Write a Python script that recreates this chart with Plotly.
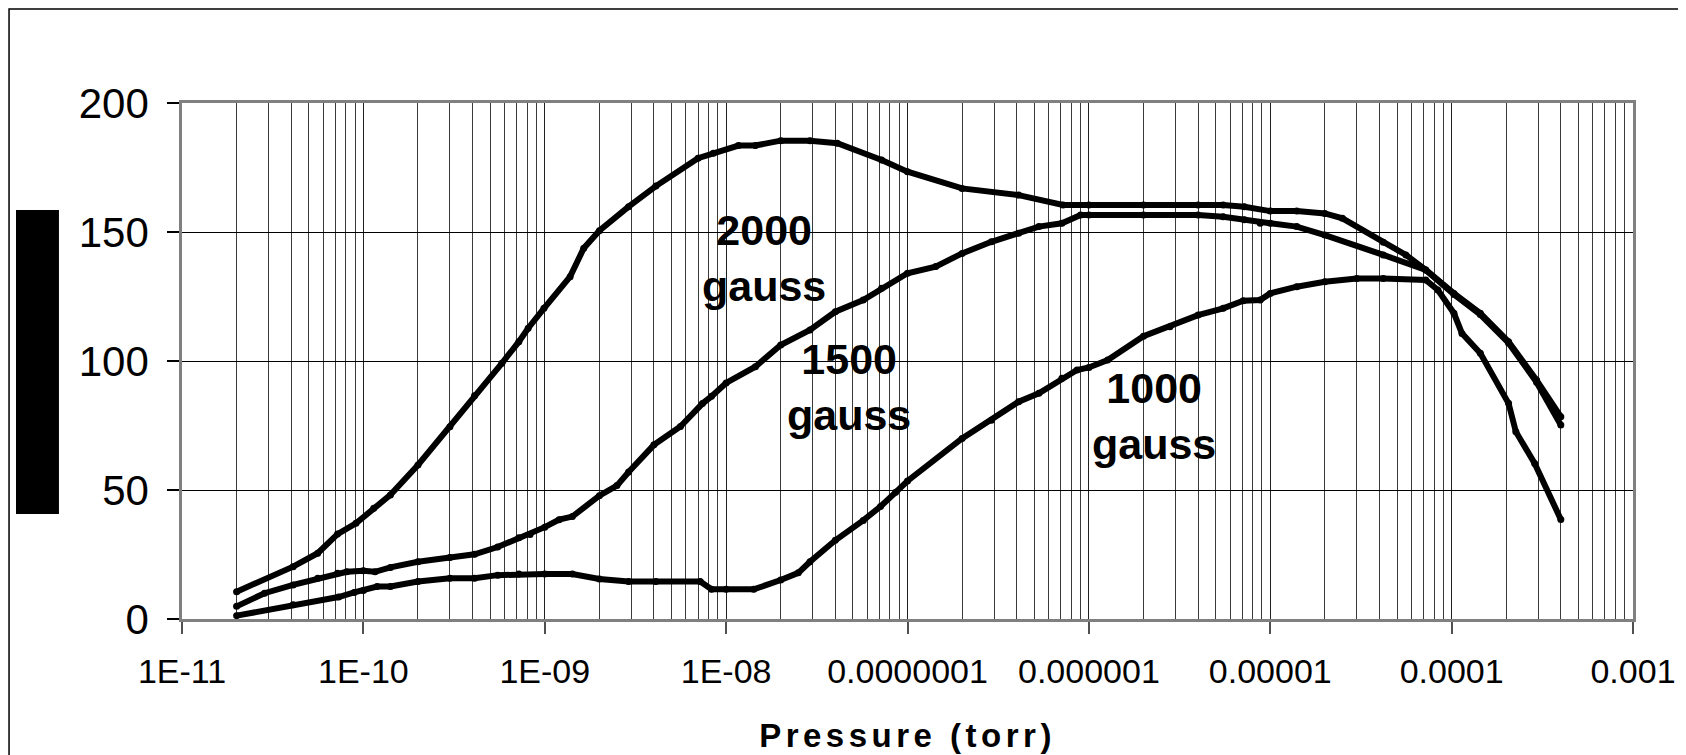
import plotly.graph_objects as go

# ---- data (pressure in torr) ----
p2000 = [2.0e-11, 4.1e-11, 5.6e-11, 7.2e-11, 9.1e-11, 1.14e-10, 1.41e-10, 2.0e-10, 3.0e-10, 4.1e-10,
         5.8e-10, 7.2e-10, 8.1e-10, 9.9e-10, 1.38e-9, 1.64e-9, 2.0e-9, 2.9e-9, 4.1e-9, 7.0e-9,
         8.5e-9, 1.17e-8, 1.45e-8, 2.0e-8, 2.9e-8, 4.1e-8, 7.2e-8, 1.0e-7, 2.0e-7, 4.1e-7,
         7.2e-7, 1.0e-6, 2.0e-6, 4.0e-6, 5.5e-6, 7.2e-6, 1.0e-5, 1.4e-5, 2.0e-5, 2.5e-5,
         4.2e-5, 5.6e-5, 7.2e-5, 1.03e-4, 1.44e-4, 2.06e-4, 2.94e-4, 4.0e-4]
y2000 = [10.6, 20.3, 25.5, 32.9, 37.1, 42.9, 48.1, 59.7, 74.5, 86.5,
         99.1, 107.5, 112.7, 120.4, 132.7, 143.7, 150.5, 159.8, 167.8, 178.6,
         180.5, 183.5, 183.5, 185.4, 185.4, 184.4, 177.9, 173.4, 166.9, 164.3,
         160.5, 160.5, 160.5, 160.5, 160.5, 159.8, 158.1, 158.1, 157.2, 155.3,
         146.0, 141.1, 135.3, 126.2, 118.5, 107.5, 92.6, 78.4]

p1500 = [2.0e-11, 2.85e-11, 4.1e-11, 5.6e-11, 7.2e-11, 8.1e-11, 1.0e-10, 1.16e-10, 1.41e-10, 2.0e-10,
         3.0e-10, 4.1e-10, 5.5e-10, 7.2e-10, 8.3e-10, 1.0e-9, 1.2e-9, 1.42e-9, 2.0e-9, 2.5e-9,
         2.9e-9, 4.0e-9, 5.6e-9, 7.4e-9, 8.3e-9, 1.0e-8, 1.45e-8, 2.0e-8, 2.9e-8, 4.0e-8,
         5.7e-8, 7.2e-8, 1.0e-7, 1.43e-7, 2.0e-7, 2.9e-7, 4.1e-7, 5.3e-7, 7.1e-7, 9.0e-7,
         1.0e-6, 2.0e-6, 4.0e-6, 5.5e-6, 7.2e-6, 8.8e-6, 1.0e-5, 1.4e-5, 2.0e-5, 4.2e-5,
         7.2e-5, 1.03e-4, 1.44e-4, 2.06e-4, 2.94e-4, 4.0e-4]
y1500 = [4.9, 10.0, 13.2, 15.8, 17.7, 18.3, 18.7, 18.3, 20.0, 22.2,
         23.8, 25.1, 27.9, 31.5, 32.8, 35.6, 38.5, 39.7, 47.8, 51.7,
         57.0, 67.5, 74.6, 83.5, 86.3, 91.5, 97.8, 106.2, 112.0, 119.1,
         123.6, 128.2, 134.0, 136.6, 141.7, 146.2, 149.5, 152.1, 153.4, 156.6,
         156.6, 156.6, 156.6, 155.9, 154.7, 153.4, 153.4, 152.1, 148.8, 141.1,
         135.3, 125.8, 118.0, 107.0, 91.8, 75.2]

p1000 = [2.0e-11, 4.1e-11, 7.3e-11, 8.9e-11, 1.0e-10, 1.19e-10, 1.41e-10, 2.0e-10, 3.0e-10, 4.1e-10,
         5.5e-10, 7.2e-10, 1.0e-9, 1.42e-9, 2.0e-9, 2.9e-9, 4.1e-9, 7.2e-9, 8.3e-9, 1.0e-8,
         1.42e-8, 2.0e-8, 2.5e-8, 2.9e-8, 4.0e-8, 5.7e-8, 7.1e-8, 8.6e-8, 1.0e-7, 2.0e-7,
         2.9e-7, 4.1e-7, 5.3e-7, 7.1e-7, 8.6e-7, 1.0e-6, 1.27e-6, 2.0e-6, 2.8e-6, 4.0e-6,
         5.5e-6, 7.1e-6, 8.8e-6, 1.0e-5, 1.4e-5, 2.0e-5, 3.0e-5, 4.2e-5, 7.2e-5, 8.4e-5,
         1.03e-4, 1.14e-4, 1.44e-4, 2.06e-4, 2.26e-4, 2.87e-4, 4.0e-4]
y1000 = [1.3, 5.5, 8.5, 10.3, 11.0, 12.6, 12.6, 14.5, 15.8, 15.8,
         17.0, 17.4, 17.4, 17.4, 15.5, 14.5, 14.5, 14.5, 11.5, 11.5,
         11.5, 15.1, 17.9, 22.2, 30.5, 38.2, 43.6, 49.1, 53.5, 70.0,
         77.0, 84.2, 87.5, 93.3, 96.5, 97.5, 100.4, 109.6, 113.3, 117.8,
         120.4, 123.4, 123.6, 126.2, 128.8, 130.7, 132.0, 132.0, 131.4, 127.5,
         118.5, 110.7, 103.0, 83.6, 72.6, 60.3, 38.6]

x_tickvals = [1e-11, 1e-10, 1e-9, 1e-8, 1e-7, 1e-6, 1e-5, 1e-4, 1e-3]
x_ticktext = ["1E-11", "1E-10", "1E-09", "1E-08", "0.0000001", "0.000001", "0.00001", "0.0001", "0.001"]
y_tickvals = [0, 50, 100, 150, 200]

labels = ["2000<br>gauss", "1500<br>gauss", "1000<br>gauss"]
label_x = [-7.79, -7.32, -5.64]   # log10 positions
label_y = [140.0, 90.0, 78.5]

minor_vals = [m * 10.0 ** e for e in range(-11, -3) for m in range(2, 10)]

FONT = "Liberation Sans, Arial, sans-serif"

fig = go.Figure()
for name, px, py in [("2000 gauss", p2000, y2000), ("1500 gauss", p1500, y1500), ("1000 gauss", p1000, y1000)]:
    fig.add_trace(go.Scatter(x=px, y=py, mode="lines+markers", name=name,
                             line=dict(color="black", width=6),
                             marker=dict(color="black", size=7),
                             showlegend=False))

for t, lx, ly in zip(labels, label_x, label_y):
    fig.add_annotation(x=lx, y=ly, xref="x", yref="y", text="<b>" + t + "</b>",
                       showarrow=False, font=dict(family=FONT, size=43, color="black"),
                       xanchor="center", yanchor="middle")

# outer chart border
fig.add_shape(type="rect", xref="paper", yref="paper",
              x0=-0.1192, x1=1.2, y0=-0.6, y1=1.1822,
              line=dict(color="black", width=1.5), fillcolor="rgba(0,0,0,0)", layer="below")
# black block at left (obscured axis title)
fig.add_shape(type="rect", xref="paper", yref="paper",
              x0=-0.1144, x1=-0.0848, y0=0.2035, y1=0.7926,
              line=dict(color="black", width=0), fillcolor="black")

fig.update_layout(
    width=1678, height=747,
    margin=dict(l=174, r=53, t=95, b=136),
    paper_bgcolor="white", plot_bgcolor="white",
    font=dict(family=FONT, color="black"),
    xaxis=dict(type="log", range=[-11, -3], automargin=False,
               tickvals=x_tickvals, ticktext=x_ticktext,
               tickfont=dict(family=FONT, size=34, color="black"),
               ticks="outside", ticklen=12, tickcolor="#505050", tickwidth=1.5,
               showgrid=True, gridcolor="#202020", gridwidth=1,
               minor=dict(tickvals=minor_vals, showgrid=True, gridcolor="#3a3a3a", gridwidth=1, ticks=""),
               showline=True, linecolor="#808080", linewidth=2.5, mirror=True,
               ticklabelstandoff=8,
               title=dict(text='<b><span style="letter-spacing:4.5px">Pressure (torr)</span></b>',
                          font=dict(family=FONT, size=33, color="black"),
                          standoff=36),
               zeroline=False),
    yaxis=dict(range=[0, 200], tickvals=y_tickvals, automargin=False,
               tickfont=dict(family=FONT, size=42, color="black"),
               ticks="outside", ticklen=12, tickcolor="black", tickwidth=1.5,
               showgrid=True, gridcolor="black", gridwidth=1,
               showline=True, linecolor="#808080", linewidth=2.5, mirror=True,
               ticklabelstandoff=10,
               zeroline=False),
)

fig.write_html("out.html")
